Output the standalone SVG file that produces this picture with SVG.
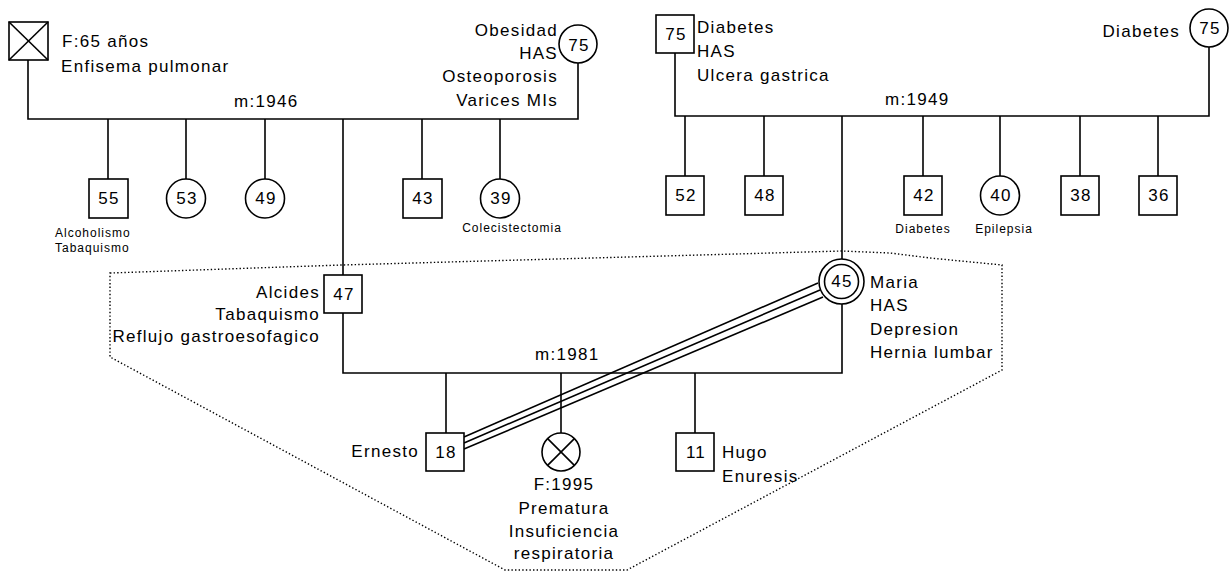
<svg xmlns="http://www.w3.org/2000/svg" width="1230" height="574" viewBox="0 0 1230 574">
<style>
.ln{stroke:#000;stroke-width:1.6;fill:none}
.sh{stroke:#000;stroke-width:1.6;fill:#fff}
.dot{stroke:#000;stroke-width:1.4;fill:none;stroke-dasharray:1.4 2.2}
text{font-family:"Liberation Sans",Arial,sans-serif;font-size:17px;letter-spacing:1.3px;fill:#000}
.sm{font-size:12px;letter-spacing:1px}
.mid{text-anchor:middle}
.end{text-anchor:end}
</style>
<rect width="1230" height="574" fill="#fff"/>
<g id="outline">
<polygon class="dot" points="110,273 342,265 520,260 700,255 842,251 890,253 930,258 1002,265 1002,370 627,570 505,570 110,357"/>
</g>
<g id="connectors">
<polyline class="ln" points="28,60 28,119 578,119 578,63"/>
<line class="ln" x1="108" y1="119" x2="108" y2="179"/>
<line class="ln" x1="186" y1="119" x2="186" y2="179"/>
<line class="ln" x1="265" y1="119" x2="265" y2="179"/>
<line class="ln" x1="343" y1="119" x2="343" y2="275"/>
<line class="ln" x1="422" y1="119" x2="422" y2="179"/>
<line class="ln" x1="500" y1="119" x2="500" y2="179"/>
<polyline class="ln" points="675,53 675,116 1209,116 1209,47"/>
<line class="ln" x1="685" y1="116" x2="685" y2="176"/>
<line class="ln" x1="764" y1="116" x2="764" y2="176"/>
<line class="ln" x1="842" y1="116" x2="842" y2="259"/>
<line class="ln" x1="923" y1="116" x2="923" y2="176"/>
<line class="ln" x1="1000" y1="116" x2="1000" y2="176"/>
<line class="ln" x1="1080" y1="116" x2="1080" y2="176"/>
<line class="ln" x1="1158" y1="116" x2="1158" y2="176"/>
<polyline class="ln" points="343,313 343,373 842,373 842,304"/>
<line class="ln" x1="446" y1="373" x2="446" y2="433"/>
<line class="ln" x1="561" y1="373" x2="561" y2="433"/>
<line class="ln" x1="695" y1="373" x2="695" y2="433"/>
<line class="ln" x1="464" y1="437" x2="818" y2="283"/>
<line class="ln" x1="464" y1="443" x2="820" y2="290"/>
<line class="ln" x1="464" y1="449" x2="823" y2="297"/>
<text x="234" y="107">m:1946</text>
<text x="885" y="105">m:1949</text>
<text x="535" y="360">m:1981</text>
</g>
<g id="gf1">
<rect class="sh" x="9" y="22" width="39" height="38"/>
<line class="ln" x1="9" y1="22" x2="48" y2="60"/>
<line class="ln" x1="48" y1="22" x2="9" y2="60"/>
<text x="62" y="47">F:65 años</text>
<text x="61" y="72">Enfisema pulmonar</text>
</g>
<g id="gm1">
<circle class="sh" cx="578" cy="44" r="19"/>
<text class="mid" x="579" y="51">75</text>
<text class="end" x="558" y="36">Obesidad</text>
<text class="end" x="558" y="59">HAS</text>
<text class="end" x="558" y="82">Osteoporosis</text>
<text class="end" x="558" y="106">Varices MIs</text>
</g>
<g id="c55">
<rect class="sh" x="89" y="179" width="39" height="39"/>
<text class="mid" x="109" y="204">55</text>
<text class="sm" x="55" y="237">Alcoholismo</text>
<text class="sm" x="55" y="252">Tabaquismo</text>
</g>
<g id="c53"><circle class="sh" cx="186" cy="198.5" r="19.5"/><text class="mid" x="187" y="204">53</text></g>
<g id="c49"><circle class="sh" cx="265" cy="198.5" r="19.5"/><text class="mid" x="266" y="204">49</text></g>
<g id="c43"><rect class="sh" x="403" y="179" width="39" height="39"/><text class="mid" x="423" y="204">43</text></g>
<g id="c39">
<circle class="sh" cx="500" cy="198.5" r="19.5"/><text class="mid" x="501" y="204">39</text>
<text class="sm mid" x="512" y="232">Colecistectomia</text>
</g>
<g id="gf2">
<rect class="sh" x="656" y="15" width="38" height="38"/>
<text class="mid" x="676" y="40">75</text>
<text x="697" y="33">Diabetes</text>
<text x="697" y="57">HAS</text>
<text x="697" y="81">Ulcera gastrica</text>
</g>
<g id="gm2">
<circle class="sh" cx="1209" cy="28" r="19"/>
<text class="mid" x="1210" y="34">75</text>
<text class="end" x="1180" y="37">Diabetes</text>
</g>
<g id="c52"><rect class="sh" x="666" y="176" width="38" height="39"/><text class="mid" x="686" y="201">52</text></g>
<g id="c48"><rect class="sh" x="745" y="176" width="38" height="39"/><text class="mid" x="765" y="201">48</text></g>
<g id="c42">
<rect class="sh" x="904" y="176" width="38" height="39"/><text class="mid" x="924" y="201">42</text>
<text class="sm mid" x="923" y="233">Diabetes</text>
</g>
<g id="c40">
<circle class="sh" cx="1000" cy="195.5" r="19.5"/><text class="mid" x="1001" y="201">40</text>
<text class="sm mid" x="1004" y="233">Epilepsia</text>
</g>
<g id="c38"><rect class="sh" x="1061" y="176" width="38" height="39"/><text class="mid" x="1081" y="201">38</text></g>
<g id="c36"><rect class="sh" x="1139" y="176" width="38" height="39"/><text class="mid" x="1159" y="201">36</text></g>
<g id="alcides">
<rect class="sh" x="324" y="275" width="38" height="38"/>
<text class="mid" x="344" y="300">47</text>
<text class="end" x="320" y="298">Alcides</text>
<text class="end" x="320" y="320">Tabaquismo</text>
<text class="end" x="320" y="342">Reflujo gastroesofagico</text>
</g>
<g id="maria">
<circle class="sh" cx="841.5" cy="281.5" r="22.5"/>
<circle class="sh" cx="841.5" cy="281.5" r="17"/>
<text class="mid" x="842" y="287">45</text>
<text x="870" y="288">Maria</text>
<text x="870" y="311">HAS</text>
<text x="870" y="335">Depresion</text>
<text x="870" y="358">Hernia lumbar</text>
</g>
<g id="ernesto">
<rect class="sh" x="426" y="433" width="38" height="38"/>
<text class="mid" x="446" y="458">18</text>
<text class="end" x="419" y="457">Ernesto</text>
</g>
<g id="f1995">
<circle class="sh" cx="561" cy="452" r="19"/>
<line class="ln" x1="547.6" y1="438.6" x2="574.4" y2="465.4"/>
<line class="ln" x1="574.4" y1="438.6" x2="547.6" y2="465.4"/>
<text class="mid" x="564" y="490">F:1995</text>
<text class="mid" x="564" y="514">Prematura</text>
<text class="mid" x="564" y="537">Insuficiencia</text>
<text class="mid" x="564" y="559">respiratoria</text>
</g>
<g id="hugo">
<rect class="sh" x="676" y="433" width="38" height="38"/>
<text class="mid" x="696" y="458">11</text>
<text x="722" y="458">Hugo</text>
<text x="722" y="482">Enuresis</text>
</g>
</svg>
